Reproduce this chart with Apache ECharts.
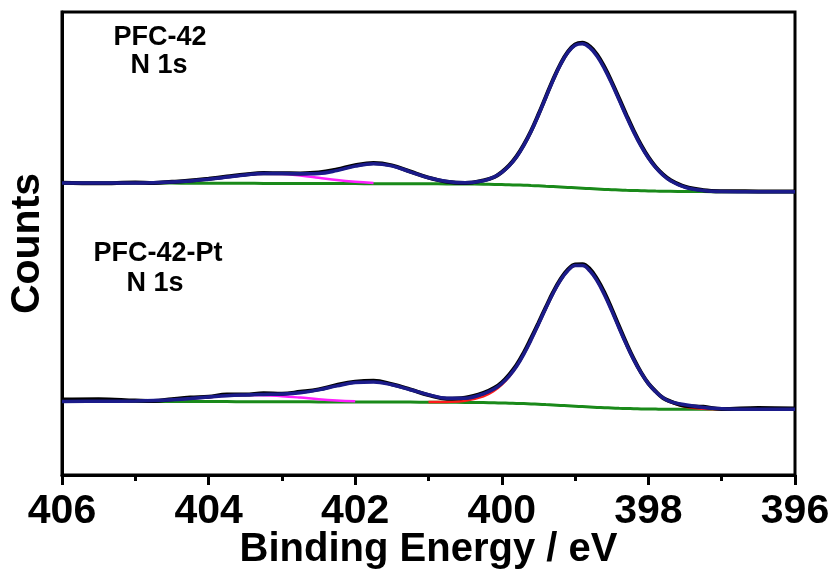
<!DOCTYPE html>
<html><head><meta charset="utf-8">
<script src="https://cdn.jsdelivr.net/npm/echarts@6/dist/echarts.min.js"></script>
<style>html,body{margin:0;padding:0;background:#fff}#c{width:832px;height:569px}</style>
</head><body><div id="c"></div>
<script>
// Binding energy grid (eV)
const energy = [406,405.5,405,404.75,404.5,404.25,404,403.75,403.5,403.25,403,402.75,402.5,402.25,402,401.75,401.5,401.25,401,400.75,400.5,400.25,
  400.1,400.0,399.9,399.8,399.7,399.6,399.5,399.4,399.3,399.2,399.1,399.0,398.9,398.8,398.7,398.6,398.5,398.4,398.3,398.2,398.1,398.0,397.9,397.8,397.7,
  397.5,397.25,397,396.5,396];
const xTicks = [396,398,400,402,404,406];

// PFC-42 (upper trace, offset counts, arb. units)
const topRaw = [292.3,291.8,292.4,292.0,293.2,294.4,296.3,298.4,300.5,301.9,301.8,301.6,302.4,305.5,309.8,312.0,309.6,303.5,297.4,293.3,292.0,294.6,
  298.0,302.9,309.6,318.5,330.3,344.2,360.6,378.0,395.5,410.9,423.0,430.5,432.2,428.6,420.4,408.0,393.0,376.6,360.0,344.2,330.0,317.8,308.0,300.6,295.0,
  288.3,284.8,283.8,283.6,283.4];
const topFit = [292.0,292.0,292.1,292.3,292.9,294.0,295.8,297.9,300.1,301.4,301.5,301.2,301.5,304.4,308.9,311.3,309.1,303.2,297.2,293.5,292.3,294.3,
  298.2,302.6,309.1,318.0,329.6,343.7,360.0,377.5,394.8,410.4,422.5,429.7,431.2,427.3,418.8,406.4,391.4,375.1,358.5,342.9,328.9,317.0,307.3,299.9,294.4,
  287.8,284.5,283.5,283.3,283.3];
const topBg = [292.0,292.0,292.0,291.9,291.9,291.8,291.8,291.7,291.7,291.6,291.6,291.5,291.5,291.4,291.4,291.3,291.3,291.2,291.2,291.1,291.0,290.8,
  290.6,290.4,290.2,290.0,289.8,289.5,289.2,288.8,288.4,288.0,287.6,287.2,286.8,286.4,286.0,285.6,285.3,285.0,284.7,284.5,284.3,284.1,283.9,283.8,283.7,
  283.5,283.4,283.3,283.3,283.3];
const topCompHigh = [292.1,292.3,292.9,294.0,295.8,297.9,300.1,301.3,301.1,299.5,297.3,295.0,293.3,292.1]; // 405 .. 401.75

// PFC-42-Pt (lower trace)
const botRaw = [75.5,75.8,74.5,74.0,75.8,77.4,78.2,80.6,80.4,81.8,81.3,83.2,85.6,90.0,93.2,94.2,90.8,85.6,79.9,76.3,77.3,82.0,
  87.2,92.6,100.3,109.8,122.3,136.8,152.0,167.6,182.8,195.6,205.3,210.6,210.8,206.0,196.0,182.4,166.0,148.6,131.6,116.0,102.5,91.5,83.6,77.0,73.6,
  69.3,68.2,66.0,67.0,66.4];
const botFit = [73.6,73.7,74.0,74.4,75.2,76.5,77.9,79.3,80.1,80.6,81.0,82.3,85.1,89.1,92.4,93.0,90.2,85.3,80.3,76.7,76.8,81.2,
  86.2,91.5,98.9,108.5,120.9,135.2,150.8,166.7,181.8,194.7,204.3,209.4,209.5,204.2,194.1,180.3,164.2,147.0,130.4,115.2,102.1,91.4,83.2,77.1,73.4,
  70.2,67.5,66.3,65.8,65.7];
const botBg = [73.6,73.6,73.6,73.5,73.5,73.5,73.4,73.4,73.3,73.3,73.2,73.2,73.1,73.1,73.0,73.0,72.9,72.9,72.8,72.7,72.6,72.4,
  72.2,72.0,71.8,71.6,71.4,71.1,70.8,70.4,70.0,69.6,69.2,68.8,68.4,68.0,67.6,67.3,67.0,66.7,66.5,66.3,66.1,66.0,65.9,65.8,65.8,
  65.7,65.7,65.7,65.7,65.7];
const botCompHigh = [73.7,74.0,74.4,75.2,76.5,77.9,79.2,79.9,79.8,78.8,77.4,75.8,74.6,73.8]; // 405.5 .. 402
const botCompMain = [72.9,73.1,74.3,78.7,84.5,90.4,98.3,108.5,120.9,135.2,150.8,166.7,181.8,194.7,204.3,209.4,209.5,204.2,194.1,180.3,164.2,147.0,
  130.4,115.2,102.1,91.4,83.2,77.1,72.9,68.2,66.3,65.8]; // 401 .. 397

const labelTop = ['PFC-42', 'N 1s'];
const labelBot = ['PFC-42-Pt', 'N 1s'];

function pairs(xs, ys) { return ys.map((y, i) => [xs[i], y]); }

const FONT = 'Arial, "Liberation Sans", Helvetica, sans-serif';
const C_FIT = '#1b1b8a', C_RAW = '#000000', C_BG = '#1a8a1a', C_MAG = '#ff20ff', C_RED = '#ff1a1a';

function line(name, data, color, width, z) {
  return { name, type: 'line', data, showSymbol: false, symbol: 'none', smooth: 0.4, z,
    lineStyle: { color, width }, itemStyle: { color }, emphasis: { disabled: true } };
}

const chart = echarts.init(document.getElementById('c'), null, { renderer: 'canvas' });
chart.setOption({
  animation: false,
  backgroundColor: '#fff',
  grid: { left: 62, right: 37, top: 12, bottom: 94, outerBoundsMode: 'none', containLabel: false,
    show: true, borderColor: '#000', borderWidth: 3, backgroundColor: 'transparent' },
  xAxis: {
    type: 'value', min: xTicks[0], max: xTicks[xTicks.length - 1], interval: 2, inverse: true,
    axisLine: { show: true, onZero: false, lineStyle: { color: '#000', width: 3 } },
    axisTick: { show: true, inside: false, length: 10, lineStyle: { color: '#000', width: 3 } },
    minorTick: { show: true, splitNumber: 2, length: 6, lineStyle: { color: '#000', width: 3 } },
    splitLine: { show: false },
    axisLabel: { color: '#000', fontFamily: FONT, fontWeight: 'bold', fontSize: 41, margin: 16 },
    name: 'Binding Energy / eV', nameLocation: 'middle', nameGap: 55, nameMoveOverlap: false,
    nameTextStyle: { color: '#000', fontFamily: FONT, fontWeight: 'bold', fontSize: 40 }
  },
  yAxis: {
    type: 'value', min: 0, max: 463,
    axisLine: { show: true, lineStyle: { color: '#000', width: 3 } },
    axisTick: { show: false }, axisLabel: { show: false }, splitLine: { show: false },
    name: 'Counts', nameLocation: 'middle', nameGap: 14, nameMoveOverlap: false,
    nameTextStyle: { color: '#000', fontFamily: FONT, fontWeight: 'bold', fontSize: 41 }
  },
  graphic: [
    { type: 'text', x: 160, y: 38, style: { text: labelTop[0], fill: '#000', font: 'bold 27px ' + FONT, align: 'center', verticalAlign: 'middle' } },
    { type: 'text', x: 159, y: 66, style: { text: labelTop[1], fill: '#000', font: 'bold 27px ' + FONT, align: 'center', verticalAlign: 'middle' } },
    { type: 'text', x: 158, y: 254, style: { text: labelBot[0], fill: '#000', font: 'bold 27px ' + FONT, align: 'center', verticalAlign: 'middle' } },
    { type: 'text', x: 155, y: 284, style: { text: labelBot[1], fill: '#000', font: 'bold 27px ' + FONT, align: 'center', verticalAlign: 'middle' } }
  ],
  series: [
    line('top-bg', pairs(energy, topBg), C_BG, 3, 1),
    line('top-comp', pairs(energy.slice(2, 16), topCompHigh), C_MAG, 2.5, 2),
    line('top-raw', pairs(energy, topRaw), C_RAW, 4, 3),
    line('top-fit', pairs(energy, topFit), C_FIT, 3.5, 4),
    line('bot-bg', pairs(energy, botBg), C_BG, 3, 1),
    line('bot-comp', pairs(energy.slice(1, 15), botCompHigh), C_MAG, 2.5, 2),
    line('bot-main', pairs(energy.slice(18, 50), botCompMain), C_RED, 2.5, 2),
    line('bot-raw', pairs(energy, botRaw), C_RAW, 4, 3),
    line('bot-fit', pairs(energy, botFit), C_FIT, 3.5, 4)
  ]
});
</script></body></html>
